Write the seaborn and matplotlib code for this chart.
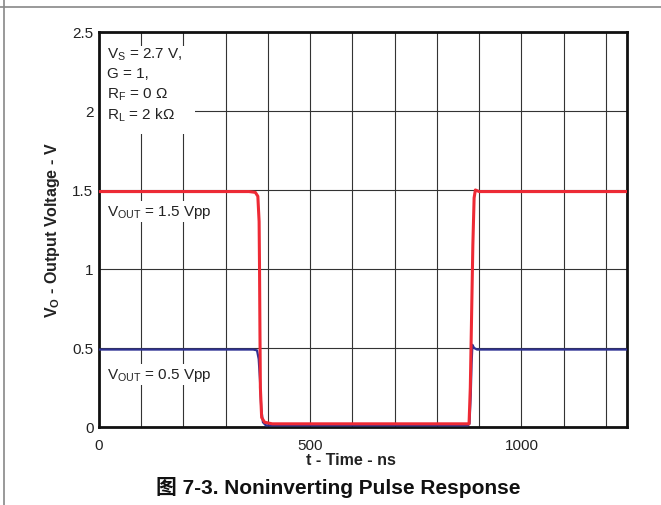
import matplotlib
matplotlib.use("Agg")
import matplotlib.pyplot as plt
from matplotlib.lines import Line2D
from matplotlib.patches import Rectangle
from matplotlib.ticker import MultipleLocator
import seaborn as sns
import pandas as pd

# 数据：两条脉冲响应曲线（时间 ns，电压 V）
red_t = [0, 355, 370, 376, 379, 380, 381, 382, 385, 392, 410, 600, 870, 876, 879, 882, 885, 888, 891, 900, 1250]
red_v = [1.49, 1.49, 1.485, 1.46, 1.3, 1.0, 0.6, 0.25, 0.06, 0.03, 0.02, 0.02, 0.02, 0.02, 0.25, 0.7, 1.15, 1.45, 1.50, 1.49, 1.49]
blue_t = [0, 365, 374, 378, 381, 384, 388, 395, 600, 873, 877, 880, 882, 884, 888, 895, 1250]
blue_v = [0.49, 0.49, 0.485, 0.43, 0.3, 0.12, 0.03, 0.01, 0.01, 0.01, 0.02, 0.2, 0.4, 0.52, 0.5, 0.49, 0.49]

x_ticks = [0, 500, 1000]
y_ticks = [0, 0.5, 1, 1.5, 2, 2.5]
y_tick_labels = ["0", "0.5", "1", "1.5", "2", "2.5"]
cond_lines = [r"V$_\mathrm{S}$ = 2.7 V,", "G = 1,", r"R$_\mathrm{F}$ = 0 Ω", r"R$_\mathrm{L}$ = 2 kΩ"]
label_15 = r"V$_\mathrm{OUT}$ = 1.5 Vpp"
label_05 = r"V$_\mathrm{OUT}$ = 0.5 Vpp"
caption = "图 7-3. Noninverting Pulse Response"

sns.set_style("white")
plt.rcParams['font.family'] = ['Liberation Sans', 'Noto Sans CJK SC', 'DejaVu Sans']
plt.rcParams['mathtext.fontset'] = 'custom'
plt.rcParams['mathtext.rm'] = 'Liberation Sans'
plt.rcParams['mathtext.bf'] = 'Liberation Sans:bold'

fig = plt.figure(figsize=(6.61, 5.06), dpi=100)
ax = fig.add_axes([0.1498, 0.1542, 0.7988, 0.7806])

df_red = pd.DataFrame({'t': red_t, 'v': red_v})
df_blue = pd.DataFrame({'t': blue_t, 'v': blue_v})
sns.lineplot(data=df_blue, x='t', y='v', color='#2e3192', linewidth=1.6, ax=ax, zorder=3)
sns.lineplot(data=df_red, x='t', y='v', color='#ee2a35', linewidth=2.2, ax=ax, zorder=4)

ax.set_xlim(0, 1250)
ax.set_ylim(0, 2.5)
ax.set_xticks(x_ticks)
ax.xaxis.set_minor_locator(MultipleLocator(100))
ax.set_yticks(y_ticks)
ax.set_yticklabels(y_tick_labels)
ax.set_axisbelow(True)
ax.grid(True, which='both', color='#333333', linewidth=0.8)
ax.tick_params(axis='both', which='both', length=0, labelsize=11, labelcolor='#222222')
ax.tick_params(axis='x', pad=8)
ax.tick_params(axis='y', pad=4)
for s in ax.spines.values():
    s.set_linewidth(2.0)
    s.set_color('#111111')

ax.set_xlabel("t - Time - ns", fontsize=11.5, fontweight='bold', color='#222222')
ax.xaxis.set_label_coords(0.477, -0.064)
ax.set_ylabel(r"V$_\mathbf{O}$ - Output Voltage - V", fontsize=11.5, fontweight='bold', color='#222222')
ax.yaxis.set_label_coords(-0.070, 0.5)

# 条件说明的白底
ax.add_patch(Rectangle((0, 0.742), 0.182, 0.223, transform=ax.transAxes,
                       facecolor='white', edgecolor='none', zorder=1))
for i, s in enumerate(cond_lines):
    ax.text(0.015, 0.946 - i * 0.051, s, transform=ax.transAxes, fontsize=11,
            color='#222222', va='center', ha='left', zorder=5)

ax.text(20, 1.365, label_15, fontsize=11, color='#222222', va='center', ha='left', zorder=5,
        bbox=dict(facecolor='white', edgecolor='none', pad=1.5))
ax.text(20, 0.33, label_05, fontsize=11, color='#222222', va='center', ha='left', zorder=5,
        bbox=dict(facecolor='white', edgecolor='none', pad=1.5))

# 外框线
fig.add_artist(Line2D([4 / 661, 4 / 661], [0, 1], color='#888888', linewidth=1.2, transform=fig.transFigure))
fig.add_artist(Line2D([0, 1], [1 - 8 / 506, 1 - 8 / 506], color='#888888', linewidth=1.2, transform=fig.transFigure))

fig.text(338 / 661, 1 - 488 / 506, caption, fontsize=15, fontweight='bold', color='#111111',
         ha='center', va='center')

fig.savefig('out.png', dpi=100)
